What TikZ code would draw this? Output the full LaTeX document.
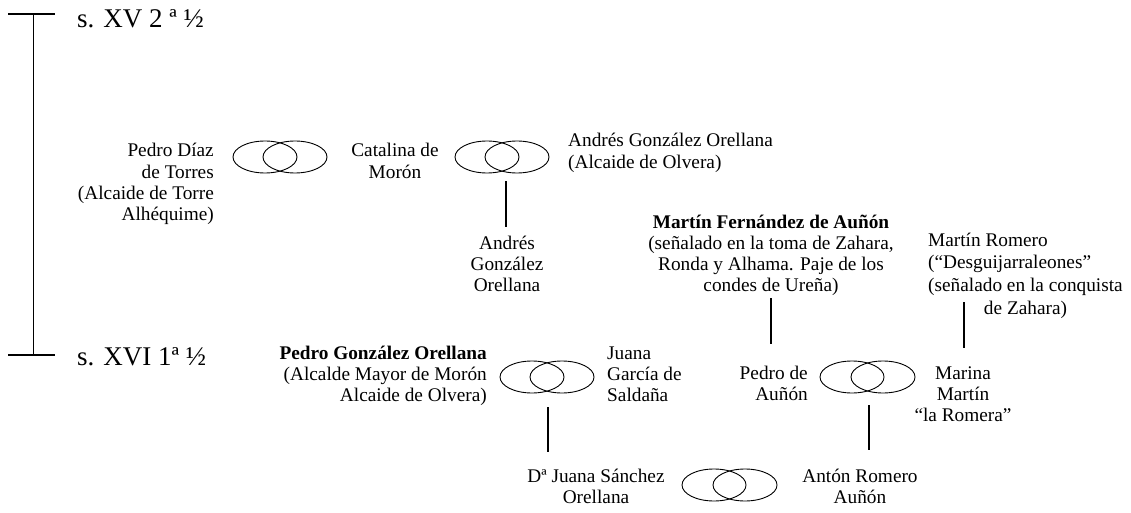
\documentclass[tikz,border=0pt]{standalone}
\usepackage{fontspec}
\setmainfont{Liberation Serif}
\usetikzlibrary{shapes.geometric}
\newcommand{\bR}[1]{\begin{tabular}[t]{@{}r@{}}#1\end{tabular}}
\newcommand{\bC}[1]{\begin{tabular}[t]{@{}c@{}}#1\end{tabular}}
\newcommand{\bL}[1]{\begin{tabular}[t]{@{}l@{}}#1\end{tabular}}
\begin{document}
\begin{tikzpicture}[x=1pt,y=-1pt,
 txt/.style={inner sep=0pt, font=\fontsize{19.3}{21.3}\selectfont},
 era/.style={inner sep=0pt, font=\fontsize{27}{30}\selectfont, anchor=base west},
 ring/.style={draw, ellipse, minimum width=64pt, minimum height=32pt, inner sep=0pt, line width=0.9pt},
 conn/.style={line width=1.7pt},
 axis/.style={line width=1.7pt}]
\useasboundingbox (0,0) rectangle (1131,513);

% timeline
\coordinate (tTop) at (33.5,14);
\coordinate (tBot) at (33.5,355);
\coordinate (tTopL) at (8,14);
\coordinate (tTopR) at (55,14);
\coordinate (tBotL) at (8,355);
\coordinate (tBotR) at (55,355);
\draw[axis] (tTop) -- (tBot);
\draw[axis] (tTopL) -- (tTopR);
\draw[axis] (tBotL) -- (tBotR);
\node[era] (eraTop) at (77,28) {s. XV 2 ª ½};
\node[era] (eraBot) at (77,365) {s. XVI 1ª ½};

% generation 1
\node[txt, anchor=base east] (pdt) at (214,157) {\bR{Pedro Díaz\\de Torres\\(Alcaide de Torre\\Alhéquime)}};
\node[ring] (r1a) at (265,157) {};
\node[ring] (r1b) at (295,157) {};
\node[txt, anchor=base] (cat) at (395,157) {\bC{Catalina de\\Morón}};
\node[ring] (r2a) at (487,157) {};
\node[ring] (r2b) at (517,157) {};
\node[txt, anchor=base west] (ago) at (568,147) {\bL{Andrés González Orellana\\(Alcaide de Olvera)}};
\coordinate (c2t) at (506,181);
\coordinate (c2b) at (506,227);
\draw[conn] (c2t) -- (c2b);
\node[txt, anchor=base] (ago2) at (507,249) {\bC{Andrés\\González\\Orellana}};

\node[txt, anchor=base] (mfa) at (771,228) {\bC{\textbf{Martín Fernández de Auñón}\\(señalado en la toma de Zahara,\\Ronda y Alhama. Paje de los\\condes de Ureña)}};
\coordinate (c3t) at (771,298);
\coordinate (c3b) at (771,344);
\draw[conn] (c3t) -- (c3b);

\node[txt, anchor=base west] (mro) at (928,246) {\renewcommand{\arraystretch}{1.07}\bL{Martín Romero\\(“Desguijarraleones”\\(señalado en la conquista\\\multicolumn{1}{@{}c@{}}{de Zahara)}}};
\coordinate (c4t) at (964,302);
\coordinate (c4b) at (964,348);
\draw[conn] (c4t) -- (c4b);

% generation 2
\node[txt, anchor=base east] (pgo) at (487,359) {\bR{\textbf{Pedro González Orellana}\\(Alcalde Mayor de Morón\\Alcaide de Olvera)}};
\node[ring] (r5a) at (532,377) {};
\node[ring] (r5b) at (562,377) {};
\node[txt, anchor=base west] (jgs) at (607,359) {\bL{Juana\\García de\\Saldaña}};
\node[txt, anchor=base east] (pda) at (808,379) {\bR{Pedro de\\Auñón}};
\node[ring] (r3a) at (852,377) {};
\node[ring] (r3b) at (883,377) {};
\node[txt, anchor=base] (mmr) at (963,379) {\bC{Marina\\Martín\\“la Romera”}};
\coordinate (c5t) at (548,407);
\coordinate (c5b) at (548,452);
\draw[conn] (c5t) -- (c5b);
\coordinate (c6t) at (869,405);
\coordinate (c6b) at (869,450);
\draw[conn] (c6t) -- (c6b);

% generation 3
\node[txt, anchor=base] (djs) at (596,482) {\bC{Dª Juana Sánchez\\Orellana}};
\node[ring] (r4a) at (714,485) {};
\node[ring] (r4b) at (745,485) {};
\node[txt, anchor=base] (ara) at (860,482) {\bC{Antón Romero\\Auñón}};
\end{tikzpicture}
\end{document}
